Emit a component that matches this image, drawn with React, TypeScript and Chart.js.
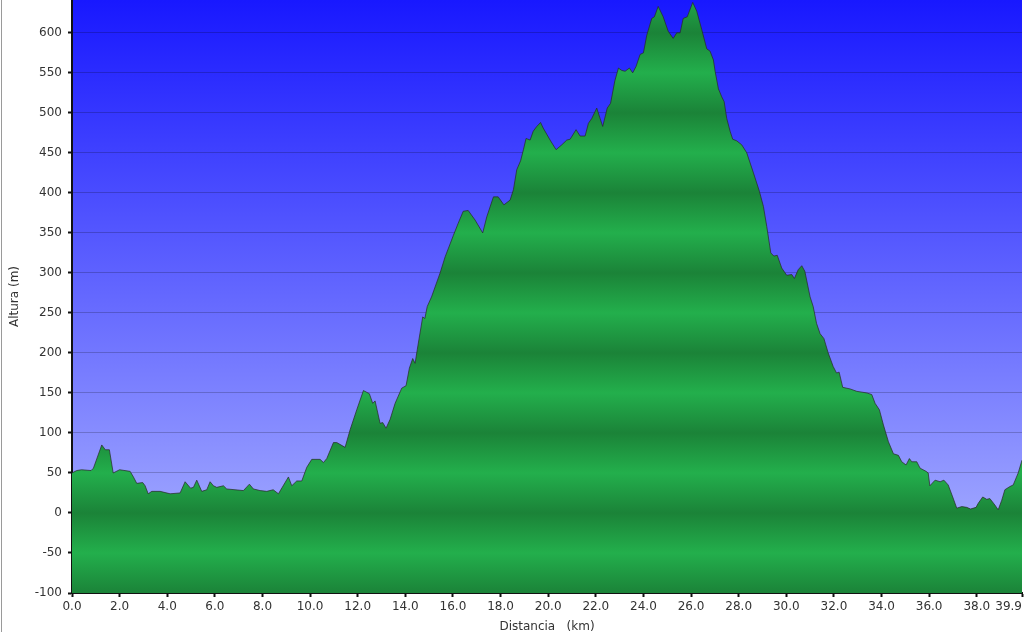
import React, { useEffect, useRef } from 'react';
import { Chart, registerables } from 'chart.js';

Chart.register(...registerables);

// Distance along the route (km)
const distanceKm = [
  0.0, 0.2, 0.4, 0.8, 0.9, 1.25, 1.4, 1.57, 1.73, 2.0,
  2.44, 2.58, 2.72, 2.97, 3.07, 3.2, 3.35, 3.7, 4.12, 4.54,
  4.75, 4.98, 5.1, 5.24, 5.45, 5.66, 5.8, 5.94, 6.08, 6.36,
  6.5, 7.2, 7.45, 7.62, 7.9, 8.18, 8.45, 8.67, 9.09, 9.23,
  9.44, 9.65, 9.86, 10.07, 10.42, 10.56, 10.7, 10.98, 11.12, 11.47,
  11.68, 11.96, 12.24, 12.49, 12.63, 12.73, 12.94, 13.05, 13.19, 13.36,
  13.57, 13.85, 14.03, 14.17, 14.31, 14.41, 14.5, 14.73, 14.82, 14.92,
  15.1, 15.46, 15.67, 16.02, 16.22, 16.43, 16.64, 16.93, 17.25, 17.42,
  17.7, 17.9, 18.14, 18.4, 18.54, 18.68, 18.84, 18.96, 19.07, 19.24,
  19.37, 19.52, 19.68, 19.79, 20.08, 20.33, 20.57, 20.78, 20.92, 21.17,
  21.34, 21.55, 21.69, 21.83, 22.04, 22.18, 22.29, 22.48, 22.62, 22.8,
  22.95, 23.09, 23.23, 23.41, 23.55, 23.69, 23.86, 24.0, 24.14, 24.35,
  24.46, 24.62, 24.83, 25.04, 25.25, 25.4, 25.54, 25.67, 25.84, 26.07,
  26.24, 26.45, 26.66, 26.8, 26.94, 27.01, 27.15, 27.29, 27.39, 27.5,
  27.64, 27.75, 27.92, 28.13, 28.34, 28.62, 28.87, 29.04, 29.18, 29.35,
  29.48, 29.62, 29.81, 30.02, 30.23, 30.34, 30.5, 30.65, 30.78, 31.0,
  31.13, 31.27, 31.42, 31.58, 31.76, 31.97, 32.11, 32.22, 32.37, 32.68,
  32.96, 33.38, 33.59, 33.73, 33.91, 34.08, 34.29, 34.5, 34.71, 34.85,
  35.03, 35.17, 35.27, 35.48, 35.62, 35.87, 35.96, 36.03, 36.25, 36.46,
  36.62, 36.8, 36.99, 37.16, 37.37, 37.58, 37.74, 37.97, 38.06, 38.25,
  38.42, 38.55, 38.76, 38.9, 39.05, 39.18, 39.39, 39.53, 39.74, 39.9,
];

// Elevation (m)
const elevationM = [
  50, 53, 54, 53, 56, 85, 79, 79, 50, 54,
  52, 45, 37, 38, 34, 24, 27, 27, 24, 25,
  39, 31, 32, 41, 27, 29, 39, 34, 32, 34,
  30, 28, 36, 30, 28, 27, 29, 24, 45, 34,
  40, 40, 57, 67, 67, 63, 68, 88, 88, 82,
  104, 129, 153, 149, 137, 140, 112, 113, 106, 117,
  137, 156, 159, 181, 193, 187, 204, 245, 243, 258,
  270, 300, 320, 347, 362, 377, 378, 366, 350, 370,
  395, 395, 385, 391, 404, 429, 440, 454, 468, 466,
  477, 483, 488, 481, 466, 454, 460, 466, 467, 479,
  471, 471, 487, 493, 506, 493, 483, 506, 512, 540,
  556, 553, 552, 556, 550, 558, 573, 575, 597, 618,
  620, 633, 620, 602, 593, 600, 600, 618, 620, 638,
  627, 604, 580, 577, 566, 552, 530, 520, 514, 493,
  477, 467, 465, 460, 450, 425, 402, 383, 358, 325,
  321, 322, 306, 297, 298, 293, 304, 309, 302, 270,
  258, 237, 224, 218, 200, 183, 175, 176, 157, 155,
  152, 150, 148, 137, 129, 110, 89, 74, 72, 64,
  60, 68, 64, 64, 56, 52, 50, 34, 41, 39,
  41, 35, 20, 6, 8, 7, 5, 7, 12, 20,
  17, 18, 10, 4, 16, 29, 33, 35, 50, 66,
];

const xTickValues = [0, 2, 4, 6, 8, 10, 12, 14, 16, 18, 20, 22, 24, 26, 28, 30, 32, 34, 36, 38, 39.9];
const yTickValues = [-100, -50, 0, 50, 100, 150, 200, 250, 300, 350, 400, 450, 500, 550, 600];

const X_MIN = 0;
const X_MAX = 39.9;
const Y_MIN = -100;
const Y_MAX = 641;

const FONT = '"DejaVu Sans", Verdana, sans-serif';
const TEXT_COLOR = '#333333';
const TICK_LEN = 4;
const X_TICK_PAD = 3;

export default function App() {
  const canvasRef = useRef<HTMLCanvasElement | null>(null);

  useEffect(() => {
    document.body.style.margin = '0';
    const canvas = canvasRef.current;
    if (!canvas) return;

    const points = distanceKm.map((d, i) => ({ x: d, y: elevationM[i] }));

    const bandFill = (context: any) => {
      const chart = context.chart;
      const { chartArea, scales } = chart;
      if (!chartArea || !scales.y) return 'rgb(34,170,74)';
      const ys = scales.y;
      const y0 = ys.getPixelForValue(700);
      const y1 = ys.getPixelForValue(-100);
      const g = chart.ctx.createLinearGradient(0, y0, 0, y1);
      for (let v = 700; v >= -100; v -= 50) {
        const p = (700 - v) / 800;
        g.addColorStop(p, v % 100 === 0 ? 'rgb(27,131,56)' : 'rgb(35,175,76)');
      }
      return g;
    };

    const backgroundPlugin = {
      id: 'skyBackground',
      beforeDraw(chart: any) {
        const { ctx, chartArea } = chart;
        if (!chartArea) return;
        const { left, top, right, bottom } = chartArea;
        const g = ctx.createLinearGradient(0, top, 0, bottom);
        g.addColorStop(0, 'rgb(24,24,255)');
        g.addColorStop(1, 'rgb(176,184,255)');
        ctx.save();
        ctx.fillStyle = g;
        ctx.fillRect(left, top, right - left, bottom - top);
        ctx.restore();
      },
      afterDraw(chart: any) {
        const { ctx } = chart;
        ctx.save();
        // frame edge on the left
        ctx.fillStyle = '#9a9a9a';
        ctx.fillRect(1, 0, 1, chart.height);
        // last x tick label, right-aligned to the plot edge
        const xs = chart.scales.x;
        const last = xTickValues[xTickValues.length - 1];
        ctx.font = '12px ' + FONT;
        ctx.fillStyle = TEXT_COLOR;
        ctx.textAlign = 'right';
        ctx.textBaseline = 'middle';
        const yPos = xs.top + TICK_LEN + X_TICK_PAD + 12 * 1.2 / 2;
        ctx.fillText(last.toFixed(1), xs.getPixelForValue(last), yPos);
        ctx.restore();
      },
    };

    const chart = new Chart(canvas, {
      type: 'line',
      data: {
        datasets: [
          {
            data: points,
            borderColor: 'rgba(40,40,40,0.7)',
            borderWidth: 1,
            backgroundColor: bandFill,
            fill: 'start',
            pointRadius: 0,
            tension: 0,
          },
        ],
      },
      options: {
        animation: false,
        responsive: false,
        maintainAspectRatio: false,
        layout: { padding: { left: 0, right: 2, top: 0, bottom: 0 } },
        plugins: {
          legend: { display: false },
          tooltip: { enabled: false },
        },
        scales: {
          x: {
            type: 'linear',
            min: X_MIN,
            max: X_MAX,
            z: 1,
            afterBuildTicks: (scale: any) => {
              scale.ticks = xTickValues.map((v) => ({ value: v }));
            },
            afterFit: (scale: any) => {
              scale.height = 39;
              scale.paddingLeft = 0;
              scale.paddingRight = 0;
            },
            border: { display: true, color: '#111', width: 2 },
            grid: {
              drawOnChartArea: false,
              drawTicks: true,
              tickLength: TICK_LEN,
              tickColor: '#111',
              tickWidth: 2,
            },
            ticks: {
              autoSkip: false,
              maxRotation: 0,
              minRotation: 0,
              padding: X_TICK_PAD,
              color: TEXT_COLOR,
              font: { family: FONT, size: 12 },
              callback: (value: any, index: number, ticks: any[]) =>
                index === ticks.length - 1 ? '' : Number(value).toFixed(1),
            },
            title: {
              display: true,
              text: 'Distancia   (km)',
              color: TEXT_COLOR,
              font: { family: FONT, size: 12 },
              padding: { top: 0, bottom: -2 },
            },
          },
          y: {
            type: 'linear',
            min: Y_MIN,
            max: Y_MAX,
            z: 1,
            afterBuildTicks: (scale: any) => {
              scale.ticks = yTickValues.map((v) => ({ value: v }));
            },
            afterFit: (scale: any) => {
              scale.width = 72;
              scale.paddingTop = 0;
              scale.paddingBottom = 0;
            },
            border: { display: true, color: '#111', width: 2 },
            grid: {
              drawOnChartArea: true,
              color: 'rgba(0,0,0,0.2)',
              lineWidth: 1,
              drawTicks: true,
              tickLength: TICK_LEN,
              tickColor: '#111',
              tickWidth: 2,
            },
            ticks: {
              padding: 6,
              color: TEXT_COLOR,
              font: { family: FONT, size: 12 },
              callback: (value: any) => String(value),
            },
            title: {
              display: true,
              text: 'Altura (m)',
              color: TEXT_COLOR,
              font: { family: FONT, size: 12 },
              padding: { top: 8, bottom: 0 },
            },
          },
        },
      },
      plugins: [backgroundPlugin],
    });

    return () => chart.destroy();
  }, []);

  return (
    <div style={{ width: 1024, height: 632, position: 'relative', background: '#fff' }}>
      <canvas ref={canvasRef} width={1024} height={632} style={{ display: 'block' }} />
    </div>
  );
}
